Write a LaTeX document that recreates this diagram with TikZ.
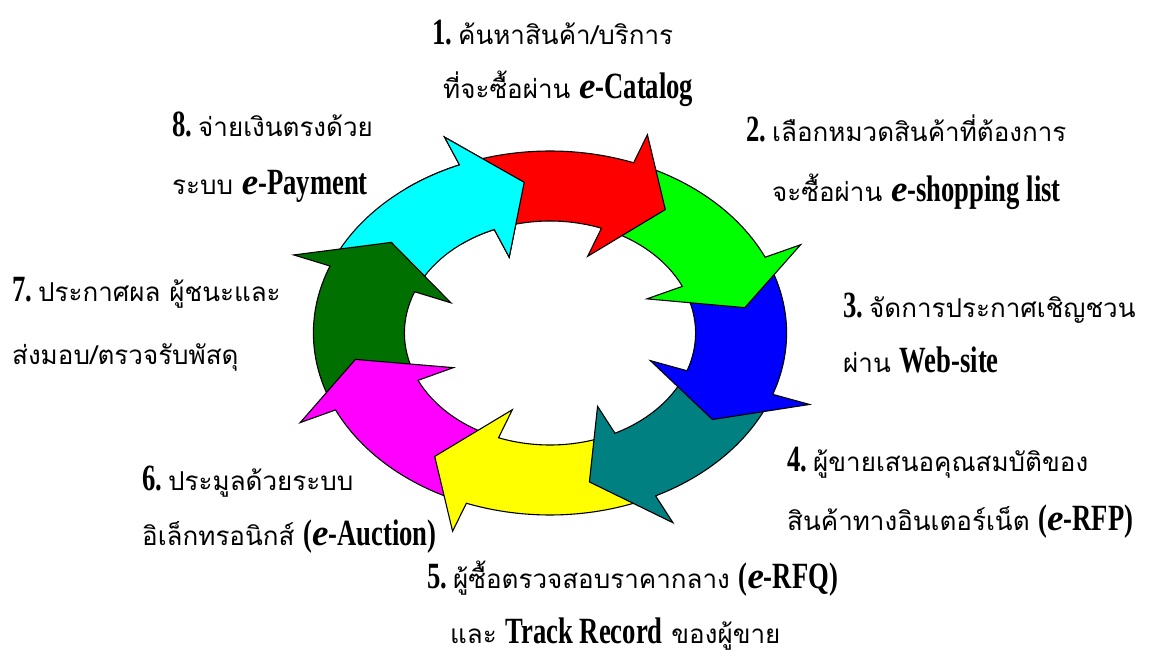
\documentclass[tikz,border=0pt]{standalone}
\usepackage{fontspec}
\newfontfamily\thaifont[Script=Thai]{Loma}
\newfontfamily\latfont[FakeStretch=0.72]{Liberation Serif}
\newfontfamily\efont{Liberation Serif}
\newcommand\lt[1]{{\latfont\bfseries\fontsize{37}{40}\selectfont #1}}
\newcommand\ei{{\efont\bfseries\itshape\fontsize{37}{40}\selectfont e}}
\newcommand\nsp{\hspace{6pt}}
\definecolor{dkgreen}{RGB}{0,112,0}
\definecolor{tealc}{RGB}{0,128,128}
\definecolor{cyanc}{RGB}{0,255,255}
\definecolor{magc}{RGB}{255,0,255}
\definecolor{yelc}{RGB}{255,255,0}
\definecolor{grnc}{RGB}{0,255,0}
\definecolor{redc}{RGB}{255,0,0}
\definecolor{bluec}{RGB}{0,0,255}
\tikzset{
  arr/.style={draw=black, line width=1.1pt, line join=miter},
  lbl/.style={anchor=base west, inner sep=0pt, font=\thaifont\fontsize{26}{30}\selectfont}
}
% #1 colour, #2 tip angle, #3 tail angle
\newcommand\ringarrow[3]{%
  \draw[arr, fill=#1] ({550+236.6*cos(#3)},{323+182*sin(#3)})
    arc[start angle=#3, end angle=#2+15, x radius=236.6, y radius=182]
    -- ({550+275.6*cos(#2+15)},{323+212*sin(#2+15)})
    -- ({550+197.6*cos(#2)},{323+152*sin(#2)})
    -- ({550+106.6*cos(#2+15)},{323+82*sin(#2+15)})
    -- ({550+145.6*cos(#2+15)},{323+112*sin(#2+15)})
    arc[start angle=#2+15, end angle=#3, x radius=145.6, y radius=112]
    -- cycle;}
% head only, redrawn on top: #1 colour, #2 tip angle
\newcommand\headonly[2]{%
  \fill[#1] ({550+236.6*cos(#2+30)},{323+182*sin(#2+30)})
    arc[start angle=#2+30, end angle=#2+15, x radius=236.6, y radius=182]
    -- ({550+275.6*cos(#2+15)},{323+212*sin(#2+15)})
    -- ({550+197.6*cos(#2)},{323+152*sin(#2)})
    -- ({550+106.6*cos(#2+15)},{323+82*sin(#2+15)})
    -- ({550+145.6*cos(#2+15)},{323+112*sin(#2+15)})
    arc[start angle=#2+15, end angle=#2+30, x radius=145.6, y radius=112]
    -- cycle;
  \draw[arr] ({550+236.6*cos(#2+30)},{323+182*sin(#2+30)})
    arc[start angle=#2+30, end angle=#2+15, x radius=236.6, y radius=182]
    -- ({550+275.6*cos(#2+15)},{323+212*sin(#2+15)})
    -- ({550+197.6*cos(#2)},{323+152*sin(#2)})
    -- ({550+106.6*cos(#2+15)},{323+82*sin(#2+15)})
    -- ({550+145.6*cos(#2+15)},{323+112*sin(#2+15)})
    arc[start angle=#2+15, end angle=#2+30, x radius=145.6, y radius=112];}
\begin{document}
\begin{tikzpicture}[x=1pt,y=1pt]
\useasboundingbox (0,0) rectangle (1158,656);
% ring of arrows, drawn in reverse order
\ringarrow{cyanc}{-262.5}{-204.6}
\ringarrow{dkgreen}{-216.6}{-158}
\ringarrow{magc}{-170}{-113.7}
\ringarrow{yelc}{-125.7}{-66.5}
\ringarrow{tealc}{-78.5}{-22.7}
\ringarrow{bluec}{-34.7}{21.6}
\ringarrow{grnc}{9.6}{66.3}
\ringarrow{redc}{54.3}{109.5}
\headonly{cyanc}{-262.5}
% labels
\node[lbl] (t1a) at (432,611) {\lt{1.}\nsp ค้นหาสินค้า/บริการ};
\node[lbl] (t1b) at (443,557) {ที่จะซื้อผ่าน \ei\lt{-Catalog}};
\node[lbl] (t8a) at (172,519) {\lt{8.}\nsp จ่ายเงินตรงด้วย};
\node[lbl] (t8b) at (172,461) {ระบบ \ei\lt{-Payment}};
\node[lbl] (t2a) at (746,514) {\lt{2.}\nsp เลือกหมวดสินค้าที่ต้องการ};
\node[lbl] (t2b) at (772,454) {จะซื้อผ่าน \ei\lt{-shopping list}};
\node[lbl] (t7a) at (12,354) {\lt{7.}\nsp ประกาศผล ผู้ชนะและ};
\node[lbl] (t7b) at (12,291) {ส่งมอบ/ตรวจรับพัสดุ};
\node[lbl] (t3a) at (843,338) {\lt{3.}\nsp จัดการประกาศเชิญชวน};
\node[lbl] (t3b) at (843,283) {ผ่าน \lt{Web-site}};
\node[lbl] (t6a) at (142,166) {\lt{6.}\nsp ประมูลด้วยระบบ};
\node[lbl] (t6b) at (142,111) {อิเล็กทรอนิกส์ \lt{(}\ei\lt{-Auction)}};
\node[lbl] (t4a) at (787,184) {\lt{4.}\nsp ผู้ขายเสนอคุณสมบัติของ};
\node[lbl] (t4b) at (787,126) {สินค้าทางอินเตอร์เน็ต \lt{(}\ei\lt{-RFP)}};
\node[lbl] (t5a) at (427,68) {\lt{5.}\nsp ผู้ซื้อตรวจสอบราคากลาง \lt{(}\ei\lt{-RFQ)}};
\node[lbl] (t5b) at (450,13) {และ \lt{Track Record} ของผู้ขาย};
\end{tikzpicture}
\end{document}
